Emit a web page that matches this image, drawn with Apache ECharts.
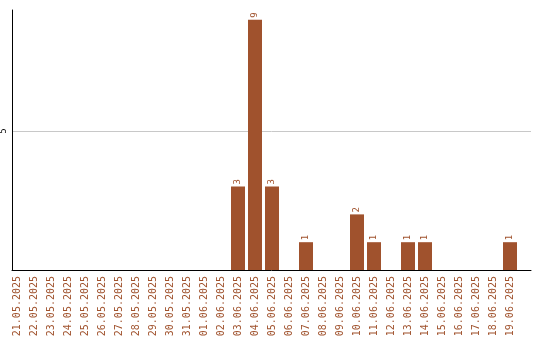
<!DOCTYPE html>
<html><head><meta charset="utf-8">
<script src="https://cdn.jsdelivr.net/npm/echarts@6/dist/echarts.min.js"></script>
<style>html,body{margin:0;padding:0;background:#fff}#c{width:540px;height:340px}</style>
</head><body><div id="c"></div>
<script>
const categories = ['21.05.2025','22.05.2025','23.05.2025','24.05.2025','25.05.2025','26.05.2025','27.05.2025','28.05.2025','29.05.2025','30.05.2025','31.05.2025','01.06.2025','02.06.2025','03.06.2025','04.06.2025','05.06.2025','06.06.2025','07.06.2025','08.06.2025','09.06.2025','10.06.2025','11.06.2025','12.06.2025','13.06.2025','14.06.2025','15.06.2025','16.06.2025','17.06.2025','18.06.2025','19.06.2025'];
const values = [0,0,0,0,0,0,0,0,0,0,0,0,0,3,9,3,0,1,0,0,2,1,0,1,1,0,0,0,0,1];
const yTickLabels = [5];

const color = '#A0522D';
const yMax = 9.35;
const chart = echarts.init(document.getElementById('c'), null, {renderer:'canvas'});
chart.setOption({
  animation:false,
  grid:[
    {left:11, top:10, width:520, height:260},
    {left:8.5, top:10, width:510, height:260}
  ],
  xAxis:[
    {gridIndex:0, type:'value', min:0, max:1, axisLine:{show:true, lineStyle:{color:'#000', width:1}}, axisTick:{show:false}, axisLabel:{show:false}, splitLine:{show:false}},
    {gridIndex:1, type:'category', data:categories, axisLine:{show:false}, axisTick:{show:false},
     axisLabel:{rotate:90, interval:0, color:color, fontFamily:'DejaVu Sans Mono', fontSize:10, margin:6}}
  ],
  yAxis:[
    {gridIndex:0, type:'value', min:0, max:yMax, interval:5,
     axisLine:{show:true, lineStyle:{color:'#000', width:1}}, axisTick:{show:false},
     axisLabel:{formatter:v=>yTickLabels.includes(v)?String(v):'', rotate:90, fontSize:8, color:'#000', fontFamily:'DejaVu Sans', margin:4, showMaxLabel:false},
     splitLine:{show:true, showMinLine:false, showMaxLine:false, lineStyle:{color:'#c8c8c8', width:1}}},
    {gridIndex:1, type:'value', min:0, max:yMax, show:false, splitLine:{show:false}}
  ],
  series:[{
    type:'bar', xAxisIndex:1, yAxisIndex:1, data:values, barWidth:14,
    itemStyle:{color:color},
    label:{show:true, position:'top', rotate:90, align:'left', verticalAlign:'middle', distance:2,
      color:color, fontFamily:'DejaVu Sans Mono', fontSize:9, formatter:p=>p.value?String(p.value):''}
  }]
});
</script></body></html>
